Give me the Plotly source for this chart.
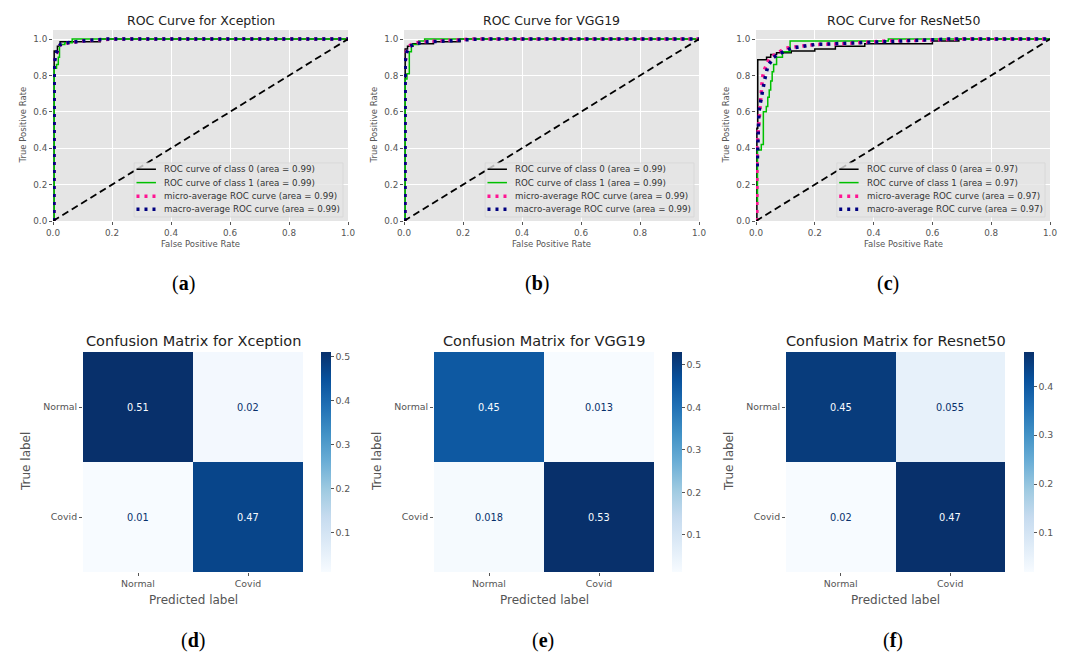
import plotly.graph_objects as go

# The page body adds an 8px margin, so the figure is sized to end exactly at the window edge
OFF = 8
W, H = 1069 - OFF, 655 - OFF
def fx(p): return (p - OFF) / W
def fy(p): return 1 - (p - OFF) / H

# ---------------- ROC data ----------------
roc_titles = ["ROC Curve for Xception", "ROC Curve for VGG19", "ROC Curve for ResNet50"]
roc_areas = [[0.99, 0.99, 0.99, 0.99], [0.99, 0.99, 0.99, 0.99], [0.97, 0.97, 0.97, 0.97]]

# Xception
xc_c0_fpr = [0.004, 0.004, 0.015, 0.015, 0.024, 0.024, 0.16, 0.16, 1.0]
xc_c0_tpr = [0.0, 0.935, 0.935, 0.96, 0.96, 0.985, 0.985, 1.0, 1.0]
xc_c1_fpr = [0.004, 0.004, 0.012, 0.012, 0.018, 0.018, 0.022, 0.022, 0.04, 0.04, 0.065, 0.065, 1.0]
xc_c1_tpr = [0.0, 0.84, 0.84, 0.86, 0.86, 0.9, 0.9, 0.97, 0.97, 0.98, 0.98, 1.0, 1.0]
xc_mi_fpr = [0.003, 0.004, 0.01, 0.015, 0.02, 0.03, 0.06, 0.1, 0.2, 1.0]
xc_mi_tpr = [0.0, 0.88, 0.92, 0.93, 0.96, 0.975, 0.98, 0.99, 1.0, 1.0]
xc_ma_fpr = [0.003, 0.004, 0.01, 0.015, 0.025, 0.05, 0.1, 0.18, 1.0]
xc_ma_tpr = [0.0, 0.86, 0.92, 0.94, 0.97, 0.98, 0.99, 1.0, 1.0]

# VGG19
vg_c0_fpr = [0.004, 0.004, 0.012, 0.012, 0.03, 0.03, 0.1, 0.1, 0.19, 0.19, 1.0]
vg_c0_tpr = [0.0, 0.946, 0.946, 0.96, 0.96, 0.975, 0.975, 0.985, 0.985, 1.0, 1.0]
vg_c1_fpr = [0.004, 0.004, 0.01, 0.01, 0.018, 0.018, 0.025, 0.025, 0.05, 0.05, 0.07, 0.07, 1.0]
vg_c1_tpr = [0.0, 0.78, 0.78, 0.81, 0.81, 0.93, 0.93, 0.97, 0.97, 0.99, 0.99, 1.0, 1.0]
vg_mi_fpr = [0.003, 0.003, 0.008, 0.015, 0.03, 0.06, 0.12, 0.22, 1.0]
vg_mi_tpr = [0.0, 0.86, 0.93, 0.96, 0.975, 0.985, 0.99, 1.0, 1.0]
vg_ma_fpr = [0.003, 0.004, 0.01, 0.02, 0.04, 0.08, 0.15, 0.25, 1.0]
vg_ma_tpr = [0.0, 0.88, 0.93, 0.96, 0.975, 0.985, 0.99, 1.0, 1.0]

# ResNet50
rn_c0_fpr = [0.003, 0.003, 0.006, 0.006, 0.036, 0.036, 0.05, 0.05, 0.07, 0.07, 0.12, 0.12,
             0.2, 0.2, 0.27, 0.27, 0.37, 0.37, 0.6, 0.6, 0.69, 0.69, 1.0]
rn_c0_tpr = [0.0, 0.51, 0.51, 0.886, 0.886, 0.9, 0.9, 0.915, 0.915, 0.925, 0.925, 0.935,
             0.935, 0.945, 0.945, 0.96, 0.96, 0.975, 0.975, 0.99, 0.99, 1.0, 1.0]
rn_c1_fpr = [0.005, 0.005, 0.018, 0.018, 0.025, 0.025, 0.035, 0.035, 0.04, 0.04, 0.045, 0.045,
             0.05, 0.05, 0.055, 0.055, 0.06, 0.06, 0.07, 0.07, 0.09, 0.09, 0.116, 0.116,
             0.45, 0.45, 1.0]
rn_c1_tpr = [0.1, 0.39, 0.39, 0.42, 0.42, 0.6, 0.6, 0.63, 0.63, 0.68, 0.68, 0.72,
             0.72, 0.77, 0.77, 0.82, 0.82, 0.86, 0.86, 0.9, 0.9, 0.93, 0.93, 0.99,
             0.99, 1.0, 1.0]
rn_mi_fpr = [0.003, 0.003, 0.008, 0.012, 0.016, 0.02, 0.025, 0.035, 0.045, 0.06, 0.08, 0.1,
             0.15, 0.2, 0.3, 0.37, 0.45, 0.6, 0.7, 1.0]
rn_mi_tpr = [0.0, 0.4, 0.5, 0.6, 0.65, 0.75, 0.82, 0.86, 0.89, 0.91, 0.93, 0.95,
             0.96, 0.97, 0.975, 0.98, 0.99, 0.995, 1.0, 1.0]
rn_ma_fpr = [0.004, 0.004, 0.01, 0.015, 0.02, 0.03, 0.04, 0.06, 0.08, 0.12, 0.2, 0.35, 0.45, 0.65, 1.0]
rn_ma_tpr = [0.3, 0.3, 0.6, 0.65, 0.7, 0.78, 0.85, 0.9, 0.92, 0.95, 0.97, 0.98, 0.99, 1.0, 1.0]

diag_x = [0.0, 1.0]
diag_y = [0.0, 1.0]

roc_curves = [
    [(xc_c0_fpr, xc_c0_tpr), (xc_c1_fpr, xc_c1_tpr), (xc_mi_fpr, xc_mi_tpr), (xc_ma_fpr, xc_ma_tpr)],
    [(vg_c0_fpr, vg_c0_tpr), (vg_c1_fpr, vg_c1_tpr), (vg_mi_fpr, vg_mi_tpr), (vg_ma_fpr, vg_ma_tpr)],
    [(rn_c0_fpr, rn_c0_tpr), (rn_c1_fpr, rn_c1_tpr), (rn_mi_fpr, rn_mi_tpr), (rn_ma_fpr, rn_ma_tpr)],
]

roc_ticks = [0.0, 0.2, 0.4, 0.6, 0.8, 1.0]

# ---------------- Confusion matrices ----------------
cm_titles = ["Confusion Matrix for Xception", "Confusion Matrix for VGG19", "Confusion Matrix for Resnet50"]
cm_labels = ["Normal", "Covid"]
cm_xception = [[0.51, 0.02], [0.01, 0.47]]
cm_vgg19 = [[0.45, 0.013], [0.018, 0.53]]
cm_resnet50 = [[0.45, 0.055], [0.02, 0.47]]
cm_values = [cm_xception, cm_vgg19, cm_resnet50]
cb_ticks = [0.1, 0.2, 0.3, 0.4, 0.5]

sub_labels_top = ["a", "b", "c"]
sub_labels_bot = ["d", "e", "f"]

# ---------------- styling / layout ----------------
FONT = "DejaVu Sans"
GRAY = "#555555"
blues = ['#f7fbff', '#deebf7', '#c6dbef', '#9ecae1', '#6baed6', '#4292c6', '#2171b5', '#08519c', '#08306b']
blues_scale = [[i / 8, c] for i, c in enumerate(blues)]

line_styles = [
    dict(color="black", width=1.5),
    dict(color="#00c000", width=1.5),
    dict(color="deeppink", width=3.5, dash="3px,5px"),
    dict(color="navy", width=3.5, dash="3px,5px"),
]

roc_px = [(53, 348), (404, 699), (756, 1050)]
roc_top, roc_bot = 30, 221
cm_px = [(83, 303), (434, 654), (786, 1005)]
cb_px = [321, 672, 1024]
cm_top, cm_bot = 352, 572
sub_x_top = [183, 537, 888]
sub_x_bot = [193, 543, 893]

fig = go.Figure()
layout = dict(width=W, height=H, margin=dict(l=0, r=0, t=0, b=0, pad=0, autoexpand=False),
              paper_bgcolor="white", plot_bgcolor="#E5E5E5",
              showlegend=False, font=dict(family=FONT, color=GRAY))
annotations = []
shapes = []

def axname(kind, n):
    return f"{kind}axis" if n == 1 else f"{kind}axis{n}"

def axref(kind, n):
    return kind if n == 1 else f"{kind}{n}"

# ROC subplots
for i in range(3):
    n = i + 1
    xr, yr = axref("x", n), axref("y", n)
    l, r = roc_px[i]
    for k, (fpr, tpr) in enumerate(roc_curves[i]):
        fig.add_trace(go.Scatter(x=fpr, y=tpr, mode="lines", line=line_styles[k],
                                 xaxis=xr, yaxis=yr, hoverinfo="skip"))
    fig.add_trace(go.Scatter(x=diag_x, y=diag_y, mode="lines",
                             line=dict(color="black", width=1.8, dash="7px,4px"),
                             xaxis=xr, yaxis=yr, hoverinfo="skip"))
    common = dict(showgrid=True, gridcolor="white", gridwidth=1, zeroline=False,
                  ticks="outside", ticklen=3, tickcolor=GRAY, tickwidth=0.8,
                  tickfont=dict(size=8.8, color=GRAY, family=FONT),
                  tickvals=roc_ticks, tickformat=".1f", showline=False, automargin=False)
    layout[axname("x", n)] = dict(domain=[fx(l), fx(r)], anchor=yr, range=[0, 1], **common)
    layout[axname("y", n)] = dict(domain=[fy(roc_bot), fy(roc_top)], anchor=xr, range=[0, 1.05], **common)
    cx = (l + r) / 2
    annotations.append(dict(text=roc_titles[i], x=fx(cx), y=fy(20.5), xref="paper", yref="paper",
                            showarrow=False, xanchor="center", yanchor="middle",
                            font=dict(size=12.5, color="#222222", family=FONT)))
    annotations.append(dict(text="False Positive Rate", x=fx(cx), y=fy(244), xref="paper", yref="paper",
                            showarrow=False, xanchor="center", yanchor="middle",
                            font=dict(size=8.5, color=GRAY, family=FONT)))
    annotations.append(dict(text="True Positive Rate", x=fx(l - 30), y=fy((roc_top + roc_bot) / 2),
                            xref="paper", yref="paper", textangle=-90,
                            showarrow=False, xanchor="center", yanchor="middle",
                            font=dict(size=8.5, color=GRAY, family=FONT)))
    # legend (drawn in axis-domain coordinates)
    dref_x, dref_y = f"{xr} domain", f"{yr} domain"
    shapes.append(dict(type="rect", xref=dref_x, yref=dref_y, x0=0.275, x1=0.983, y0=0.021, y1=0.304,
                       fillcolor="rgba(229,229,229,0.8)", line=dict(color="#d6d6d6", width=0.8),
                       layer="above"))
    a = roc_areas[i]
    texts = [f"ROC curve of class 0 (area = {a[0]:.2f})",
             f"ROC curve of class 1 (area = {a[1]:.2f})",
             f"micro-average ROC curve (area = {a[2]:.2f})",
             f"macro-average ROC curve (area = {a[3]:.2f})"]
    rows = [0.271, 0.201, 0.130, 0.062]
    for k in range(4):
        st = dict(line_styles[k])
        shapes.append(dict(type="line", xref=dref_x, yref=dref_y, x0=0.283, x1=0.349,
                           y0=rows[k], y1=rows[k], line=st, layer="above"))
        annotations.append(dict(text=texts[k], xref=dref_x, yref=dref_y, x=0.37, y=rows[k],
                                xanchor="left", yanchor="middle", showarrow=False,
                                font=dict(size=8.7, color="#333333", family=FONT)))
    annotations.append(dict(text=f"(<b>{sub_labels_top[i]}</b>)", x=fx(sub_x_top[i]), y=fy(283),
                            xref="paper", yref="paper", showarrow=False,
                            xanchor="center", yanchor="middle",
                            font=dict(size=20, color="black", family="Liberation Serif")))

# Confusion matrices
for i in range(3):
    n = i + 4
    xr, yr = axref("x", n), axref("y", n)
    l, r = cm_px[i]
    z = cm_values[i]
    flat = [v for row in z for v in row]
    zmin, zmax = min(flat), max(flat)
    fig.add_trace(go.Heatmap(
        z=z, x=cm_labels, y=cm_labels, xaxis=xr, yaxis=yr,
        colorscale=blues_scale, zmin=zmin, zmax=zmax, hoverinfo="skip",
        colorbar=dict(x=fx(cb_px[i]), xanchor="left", xpad=0, ypad=0,
                      y=fy((cm_top + cm_bot) / 2), yanchor="middle",
                      lenmode="pixels", len=cm_bot - cm_top,
                      thicknessmode="pixels", thickness=10, outlinewidth=0,
                      tickvals=cb_ticks, ticks="outside", ticklen=3, tickcolor=GRAY,
                      tickfont=dict(size=9.4, color=GRAY, family=FONT))))
    cm_common = dict(showgrid=False, zeroline=False, ticks="outside", ticklen=3,
                     tickcolor=GRAY, tickwidth=0.8, showline=False, automargin=False,
                     tickfont=dict(size=9.4, color=GRAY, family=FONT))
    layout[axname("x", n)] = dict(domain=[fx(l), fx(r)], anchor=yr, **cm_common)
    layout[axname("y", n)] = dict(domain=[fy(cm_bot), fy(cm_top)], anchor=xr,
                                  autorange="reversed", **cm_common)
    thresh = (zmin + zmax) / 2
    for ri, row in enumerate(z):
        for ci, v in enumerate(row):
            col = blues[0] if v > thresh else blues[-1]
            annotations.append(dict(text=f"{v:.2g}", x=cm_labels[ci], y=cm_labels[ri],
                                    xref=xr, yref=yr, showarrow=False,
                                    font=dict(size=9.8, color=col, family=FONT)))
    cx = (l + r) / 2
    annotations.append(dict(text=cm_titles[i], x=fx(cx), y=fy(340.5), xref="paper", yref="paper",
                            showarrow=False, xanchor="center", yanchor="middle",
                            font=dict(size=14.5, color="#222222", family=FONT)))
    annotations.append(dict(text="Predicted label", x=fx(cx), y=fy(600), xref="paper", yref="paper",
                            showarrow=False, xanchor="center", yanchor="middle",
                            font=dict(size=12, color=GRAY, family=FONT)))
    annotations.append(dict(text="True label", x=fx(l - 57), y=fy((cm_top + cm_bot) / 2),
                            xref="paper", yref="paper", textangle=-90, showarrow=False,
                            xanchor="center", yanchor="middle",
                            font=dict(size=12, color=GRAY, family=FONT)))
    annotations.append(dict(text=f"(<b>{sub_labels_bot[i]}</b>)", x=fx(sub_x_bot[i]), y=fy(640),
                            xref="paper", yref="paper", showarrow=False,
                            xanchor="center", yanchor="middle",
                            font=dict(size=20, color="black", family="Liberation Serif")))

layout["annotations"] = annotations
layout["shapes"] = shapes
fig.update_layout(**layout)
fig.write_html("out.html")
